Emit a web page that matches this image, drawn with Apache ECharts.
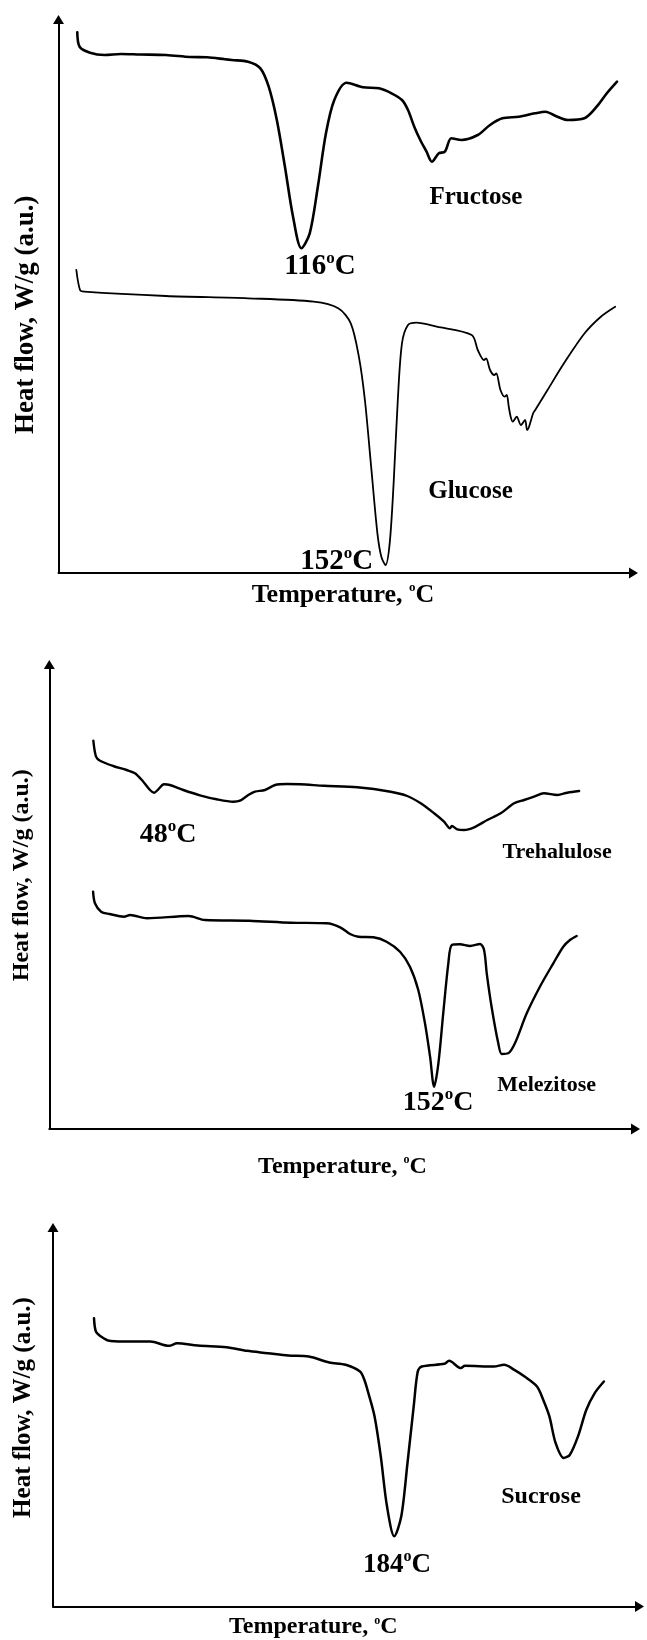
<!DOCTYPE html>
<html>
<head>
<meta charset="utf-8">
<script src="https://cdn.jsdelivr.net/npm/echarts@6/dist/echarts.min.js"></script>
<style>
html,body{margin:0;padding:0;background:#fff;}
#chart{width:647px;height:1640px;}
</style>
</head>
<body>
<div id="chart"></div>
<script>
// ---- Data: [temperature (°C), heat flow (a.u., height above axis)] ----
const fructose = [[19.1,540.7],[20.1,526.3],[24.6,520.3],[30.9,518],[38,519],[46.2,518.5],[57.4,518],[67.7,516],[75.1,515.7],[82.8,513.8],[85.8,513],[92.8,511.3],[98.1,504.7],[101.7,486.3],[105.2,453],[108.7,406.3],[112.2,356.3],[115.8,324.7],[119.4,339.7],[122.9,386.3],[126.4,439.7],[130,473],[135.3,490.3],[142.4,485.7],[149.3,484.7],[154.7,479.7],[159.2,473],[161.8,463],[164.5,446.3],[167.1,433],[169.8,421.3],[172.1,411.3],[175.1,419.7],[177.7,421.3],[180.5,434.7],[184.8,433],[191.9,438],[197.2,448],[202.5,454.7],[209.6,456.3],[216.6,459.7],[221.1,461.3],[225.5,457],[230.8,453],[237.9,454.7],[243.2,466.3],[247.6,479.7],[252,491.3]];
const glucose = [[18.7,303],[20.3,283],[22.1,281.3],[57.4,277],[92.8,274.7],[121.1,271.3],[131.7,264.7],[137.1,249.7],[140.6,216.3],[143.2,173],[145.9,106.3],[148.6,39.7],[150.3,16.3],[152.1,8],[153.9,29.7],[155.6,89.7],[157.4,173],[159.2,229.7],[161.8,248],[165.4,250.3],[174.2,246.3],[189.3,238],[191.9,223],[194.6,213],[195.5,214.7],[197.2,203],[199,198],[199.9,199.5],[201.7,183],[203.5,176.3],[204.4,178],[205.3,166],[206.1,156.3],[207,151.3],[208.7,156.3],[210.5,148],[212.3,153],[213.2,143],[214,146],[215.8,159.7],[216.7,163],[222,183],[229.1,209.7],[238,239.7],[245,256.3],[251.2,266.3]];
const trehalulose = [[25.4,388.3],[26.4,372.3],[27.9,368.3],[32.8,363],[37.8,359],[40.9,355.7],[44,347.3],[46.5,339],[48,336.3],[49.6,339.7],[51.7,344.7],[53.9,344],[58.9,339],[65.1,333.7],[71.3,329.7],[77.5,327.3],[80,328.3],[83.1,334],[85.6,337.3],[89.3,339],[93.1,344],[97.4,345],[102.4,344.7],[111.3,343.3],[123.7,341.7],[136.1,337.3],[142.3,333],[147.3,325.7],[152.3,315.7],[156,307.3],[158.2,300.7],[158.9,303],[160.9,299.7],[163.4,299],[167.2,301.7],[172.1,309],[177.1,315.7],[182.1,325.7],[185.8,329],[189.5,332.3],[193.2,335.7],[198.2,334],[201.9,336.3],[206.3,338]];
const melezitose = [[25.3,237.3],[26,225.7],[28.3,217.3],[31.4,215],[36.8,212.3],[39.1,214],[45.4,210.7],[60.9,213],[67,209],[83.4,208.3],[98.9,206.3],[112.3,205.7],[117.3,201.7],[121,195],[124.1,192.3],[129.7,191.7],[134.6,187.3],[139.6,177.3],[143.3,162.3],[146.4,139],[148.9,105.7],[150.8,72.3],[152.3,42.3],[153.9,65.7],[155.7,115.7],[157.6,165.7],[158.9,184],[161.9,184.7],[165.7,183],[169.4,185],[170.9,179],[171.9,155.7],[173.7,122.3],[176.2,85.7],[177.5,75],[179.9,75.7],[182.4,85.7],[186.8,115.7],[191.7,142.3],[196.7,165.7],[200.4,182.3],[202.9,189],[205.4,193]];
const sucrose = [[72.7,288.7],[73.4,275.3],[75.3,270.3],[77.9,266.3],[83.7,265.3],[93.6,265.3],[100.5,261],[103.5,263.7],[111.2,261.3],[121.8,259.7],[129.4,256],[137.1,253.7],[144.7,251.3],[152.3,250.3],[159.9,244.3],[166,242],[171.3,235.3],[172.9,227],[174.4,213.7],[176.7,190.3],[179,150.3],[181.3,100.3],[184,70.3],[186.6,90.3],[188.9,143.7],[191.2,200.3],[192.7,235.3],[194.2,240.3],[202.6,243],[204.3,246],[208.7,238.7],[210.2,241],[220.9,240.3],[224.7,242],[228.5,237],[232.3,230.3],[236.9,220.3],[239.2,207],[241.5,190.3],[243.8,163.7],[246.8,148.7],[249.1,152],[252.1,170.3],[255.2,197],[258.3,213.7],[261.7,225.3]];

// Annotations: [text, temperature, heat flow] (anchor in data units)
const notes1 = [['116°C',123.8,306.3],['152°C',131.1,11],['Fructose',191.1,375.5],['Glucose',188.8,81.3]];
const notes2 = [['48°C',53.2,294],['152°C',153.8,26],['Trehalulose',198.1,277],['Melezitose',194.2,44]];
const notes3 = [['184°C',185,42],['Sucrose',238.4,110]];

const xAxisTitle = 'Temperature, °C';
const yAxisTitle = 'Heat flow, W/g (a.u.)';

// ---- Rendering ----
const FONT = '"Liberation Serif", "Times New Roman", serif';
const supify = s => s.replace('°', '{s|o}');

const panels = [
  {grid:{left:58.5, top:19.5, width:575, height:553.5}, x:[11,259.1], y:[0,553.5],
   xName:{size:26, gap:8, pad:[0,6,0,0]}, yName:{size:27, gap:19, pad:[0,37,0,0]},
   peakSize:29, nameSize:25},
  {grid:{left:49.3, top:664.5, width:586.2, height:464.5}, x:[9,227.3], y:[0,464.5],
   xName:{size:24, gap:25, pad:[0,0,0,0]}, yName:{size:24, gap:16, pad:[0,0,0,43]},
   peakSize:28, nameSize:22},
  {grid:{left:53, top:1227.5, width:586.5, height:379.5}, x:[57.5,274.9], y:[0,379.5],
   xName:{size:24, gap:8, pad:[0,66,0,0]}, yName:{size:25, gap:17, pad:[0,0,0,19]},
   peakSize:27, nameSize:24}
];
const lineWidths = [[2.6,1.8],[2.4,2.4],[2.5]];
const curves = [[fructose, glucose],[trehalulose, melezitose],[sucrose]];
const notes = [notes1, notes2, notes3];

function supStyle(size, ratio){
  const fs = Math.round(size*ratio);
  return {fontSize: fs, padding:[0,0,Math.round(size*0.56),0],
          fontFamily: FONT, fontWeight:'bold', color:'#000'};
}
const axisLineStyle = {onZero:false, lineStyle:{color:'#000', width:2}, symbol:['none','triangle'], symbolSize:[11,9]};

const grids = [], xAxes = [], yAxes = [], series = [];
panels.forEach((p, i) => {
  grids.push(Object.assign({containLabel:false}, p.grid));
  xAxes.push({
    gridIndex:i, type:'value', min:p.x[0], max:p.x[1],
    axisLine:axisLineStyle, axisTick:{show:false}, axisLabel:{show:false}, splitLine:{show:false},
    name: supify(xAxisTitle), nameLocation:'middle', nameGap:p.xName.gap,
    nameTextStyle:{fontFamily:FONT, fontWeight:'bold', fontSize:p.xName.size, color:'#000',
      padding:p.xName.pad, rich:{s:supStyle(p.xName.size, 0.5)}}
  });
  yAxes.push({
    gridIndex:i, type:'value', min:p.y[0], max:p.y[1],
    axisLine:axisLineStyle, axisTick:{show:false}, axisLabel:{show:false}, splitLine:{show:false},
    name: yAxisTitle, nameLocation:'middle', nameRotate:90, nameGap:p.yName.gap,
    nameTextStyle:{fontFamily:FONT, fontWeight:'bold', fontSize:p.yName.size, color:'#000', padding:p.yName.pad}
  });
  curves[i].forEach((d, j) => {
    series.push({
      type:'line', xAxisIndex:i, yAxisIndex:i, data:d, showSymbol:false,
      smooth:0.3, silent:true,
      lineStyle:{color:'#000', width:lineWidths[i][j], join:'round', cap:'round'}
    });
  });
  series.push({
    type:'scatter', xAxisIndex:i, yAxisIndex:i, symbolSize:0, silent:true,
    itemStyle:{opacity:1, color:'#000'},
    data: notes[i].map(n => {
      const peak = n[0].indexOf('°') >= 0;
      const size = peak ? p.peakSize : p.nameSize;
      return {value:[n[1], n[2]], name:n[0],
        label:{fontSize:size, rich:{s:supStyle(size, 0.6)}}};
    }),
    label:{show:true, position:'inside', formatter: q => supify(q.name),
      fontFamily:FONT, fontWeight:'bold', color:'#000', opacity:1}
  });
});

const chart = echarts.init(document.getElementById('chart'), null, {renderer:'canvas'});
chart.setOption({
  animation:false,
  backgroundColor:'#fff',
  grid:grids, xAxis:xAxes, yAxis:yAxes, series:series
});
</script>
</body>
</html>
